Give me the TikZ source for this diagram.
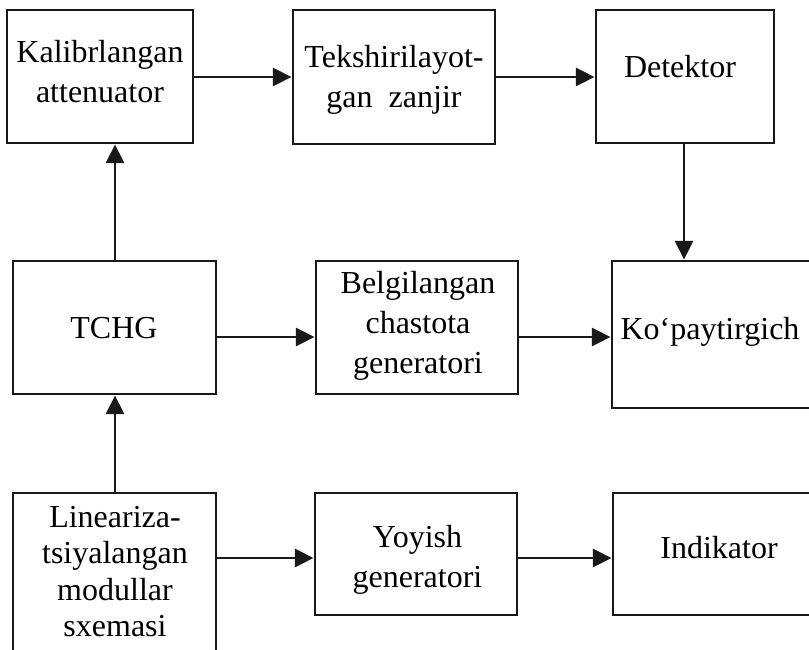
\documentclass[tikz,border=0pt]{standalone}
\usepackage{fontspec}
\setmainfont{Liberation Serif}
\usetikzlibrary{arrows.meta}
\begin{document}
\begin{tikzpicture}[x=0.75pt,y=-0.75pt,
  blk/.style={draw=black!90,line width=2.2pt,rectangle,inner sep=0pt},
  lbl/.style={inner sep=0pt,align=center,font=\fontsize{24}{30}\selectfont},
  arr/.style={draw=black!90,line width=2pt,-{Triangle[length=14pt,width=13.5pt]}}]
\useasboundingbox (0,0) rectangle (809,649);
\clip (0,0) rectangle (809,649);

% blocks
\node[blk,minimum width=139.5pt,minimum height=99.75pt] (K) at (100,76.5) {};
\node[blk,minimum width=151.5pt,minimum height=100.5pt] (T) at (394,77) {};
\node[blk,minimum width=133.5pt,minimum height=99.75pt] (D) at (685,76.5) {};
\node[blk,minimum width=152.25pt,minimum height=99.75pt] (TCHG) at (114.5,327.5) {};
\node[blk,minimum width=151.5pt,minimum height=99.75pt] (Belg) at (417,327.5) {};
\node[blk,minimum width=163.5pt,minimum height=110.25pt] (Kop) at (721,334.5) {};
\node[blk,minimum width=152.25pt,minimum height=132.75pt] (Lin) at (114.5,581.5) {};
\node[blk,minimum width=151.5pt,minimum height=91.5pt] (Yoy) at (416,554) {};
\node[blk,minimum width=162.75pt,minimum height=91.5pt] (Ind) at (721.5,554) {};

% labels
\node[lbl] (Kt) at (100,72) {Kalibrlangan\\attenuator};
\node[lbl] (Tt) at (394,79.5) {Tekshirilayot-\\gan\ \ zanjir};
\node[lbl,anchor=base] (Dt) at (680,78) {Detektor};
\node[lbl,anchor=base] (TCHGt) at (114,338) {TCHG};
\node[lbl] (Belgt) at (418,325.5) {Belgilangan\\chastota\\generatori};
\node[lbl,anchor=base] (Kopt) at (710,339) {Ko‘paytirgich};
\node[lbl,font=\fontsize{24}{27.4}\selectfont] (Lint) at (115,571.5) {Lineariza-\\tsiyalangan\\modullar\\sxemasi};
\node[lbl] (Yoyt) at (417.5,559.5) {Yoyish\\generatori};
\node[lbl,anchor=base] (Indt) at (719,558) {Indikator};

% connector rows and columns
\coordinate (r1) at (0,77);
\coordinate (r2) at (0,337);
\coordinate (r3) at (0,558);
\coordinate (c1) at (115,0);
\coordinate (c2) at (684,0);

% connectors
\draw[arr] (K.east |- r1) -- (T.west |- r1);
\draw[arr] (T.east |- r1) -- (D.west |- r1);
\draw[arr] (D.south -| c2) -- (Kop.north -| c2);
\draw[arr] (TCHG.north -| c1) -- (K.south -| c1);
\draw[arr] (TCHG.east |- r2) -- (Belg.west |- r2);
\draw[arr] (Belg.east |- r2) -- (Kop.west |- r2);
\draw[arr] (Lin.north -| c1) -- (TCHG.south -| c1);
\draw[arr] (Lin.east |- r3) -- (Yoy.west |- r3);
\draw[arr] (Yoy.east |- r3) -- (Ind.west |- r3);
\end{tikzpicture}
\end{document}
